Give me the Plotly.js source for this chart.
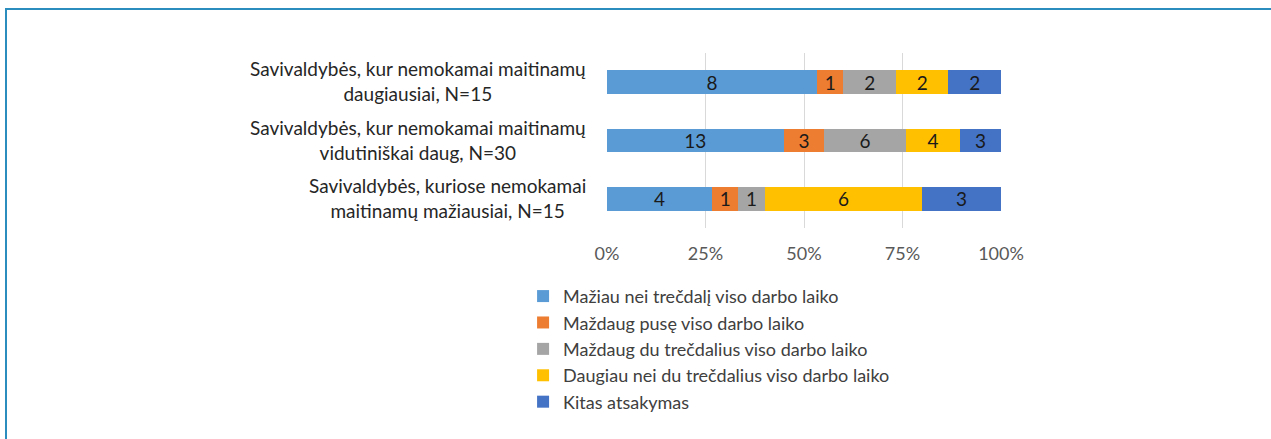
<!DOCTYPE html>
<html>
<head>
<meta charset="utf-8">
<script src="https://cdn.plot.ly/plotly-3.0.1.min.js"></script>
<style>
  html, body { margin: 0; padding: 0; background: #fff; }
  #wrap { position: relative; width: 1271px; height: 439px; overflow: hidden; }
  #chart { width: 1271px; height: 439px; }
  #frame { position: absolute; left: 5px; top: 8px; width: 1300px; height: 500px;
           border-left: 2px solid #2A8DBE; border-top: 2px solid #2A8DBE; pointer-events: none; }
</style>
</head>
<body>
<div id="wrap">
  <div id="chart"></div>
  <div id="frame"></div>
</div>
<script>
const categories = [
  "Savivaldybės, kur nemokamai maitinamų<br>daugiausiai, N=15",
  "Savivaldybės, kur nemokamai maitinamų<br>vidutiniškai daug, N=30",
  "Savivaldybės, kuriose nemokamai<br>maitinamų mažiausiai, N=15"
];
const seriesNames = [
  "Mažiau nei trečdalį viso darbo laiko",
  "Maždaug pusę viso darbo laiko",
  "Maždaug du trečdalius viso darbo laiko",
  "Daugiau nei du trečdalius viso darbo laiko",
  "Kitas atsakymas"
];
const lessThanThird = [8, 13, 4];
const aboutHalf = [1, 3, 1];
const aboutTwoThirds = [2, 6, 1];
const moreThanTwoThirds = [2, 4, 6];
const otherAnswer = [2, 3, 3];
const seriesValues = [lessThanThird, aboutHalf, aboutTwoThirds, moreThanTwoThirds, otherAnswer];
const colors = ["#5B9BD5", "#ED7D31", "#A5A5A5", "#FFC000", "#4472C4"];
const tickVals = [0, 25, 50, 75, 100];
const tickText = ["0%", "25%", "50%", "75%", "100%"];

const FONT = "Lato, 'Liberation Sans', sans-serif";

const traces = seriesValues.map((vals, i) => ({
  type: "bar",
  orientation: "h",
  name: seriesNames[i],
  y: categories,
  x: vals,
  text: vals.map(String),
  textposition: "inside",
  insidetextanchor: "middle",
  textangle: 0,
  constraintext: "none",
  textfont: { family: FONT, size: 19, color: "#1a1a1a" },
  marker: { color: colors[i], line: { width: 0 } },
  hoverinfo: "skip"
}));

const annotations = categories.map(c => ({
  xref: "paper", yref: "y",
  x: 0, y: c,
  xanchor: "right", yanchor: "middle",
  xshift: -19,
  yshift: 1,
  align: "center",
  text: c,
  showarrow: false,
  font: { family: FONT, size: 19, color: "#262626" }
}));

const layout = {
  width: 1271, height: 439,
  margin: { l: 607, r: 270, t: 53, b: 210.5, pad: 0 },
  paper_bgcolor: "#ffffff",
  plot_bgcolor: "#ffffff",
  barmode: "stack",
  barnorm: "percent",
  bargap: 0.59,
  showlegend: true,
  legend: {
    orientation: "v",
    x: -0.213, xanchor: "left",
    y: -0.285, yanchor: "top",
    traceorder: "normal",
    font: { family: FONT, size: 18, color: "#404040" },
    itemwidth: 30,
    tracegroupgap: 0,
    bgcolor: "rgba(0,0,0,0)"
  },
  xaxis: {
    range: [0, 100],
    tickvals: tickVals,
    ticktext: tickText,
    showgrid: true,
    gridcolor: "#D9D9D9",
    gridwidth: 1,
    zeroline: false,
    showline: false,
    ticks: "",
    tickfont: { family: FONT, size: 18, color: "#595959" },
    ticklabelstandoff: 13,
    fixedrange: true
  },
  yaxis: {
    type: "category",
    autorange: "reversed",
    showticklabels: false,
    showgrid: false,
    zeroline: false,
    showline: false,
    ticks: "",
    fixedrange: true
  },
  annotations: annotations
};

Plotly.newPlot("chart", traces, layout, { displayModeBar: false, staticPlot: true });
</script>
</body>
</html>
